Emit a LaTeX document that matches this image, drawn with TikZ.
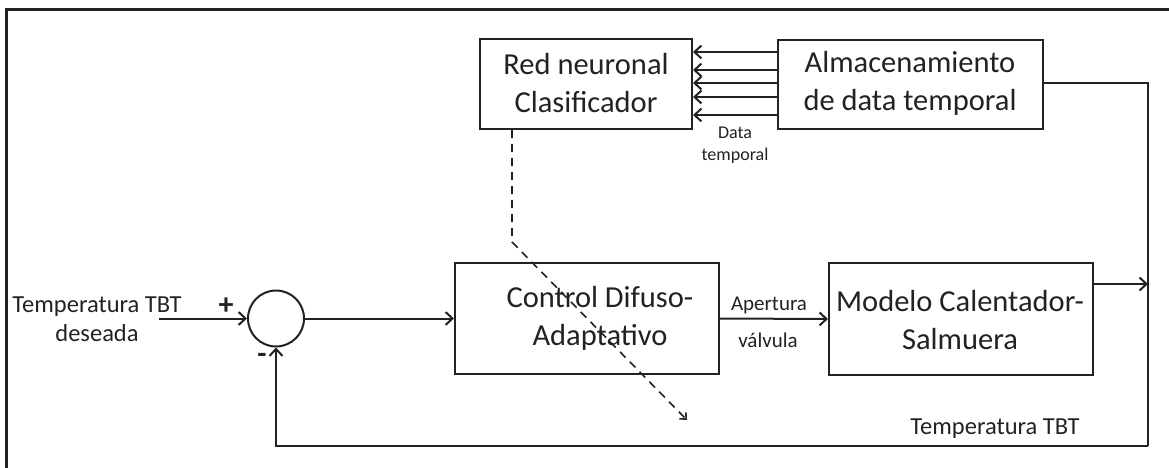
\documentclass[tikz,border=0pt]{standalone}
\usepackage{fontspec}
\setmainfont{Carlito}
\usetikzlibrary{arrows.meta}
\definecolor{ink}{HTML}{222222}
\tikzset{
  block/.style={draw=ink, line width=2pt, fill=white, inner sep=0pt},
  bodytext/.style={text=ink, align=center, font=\fontsize{30.5}{37.5}\selectfont},
  midtext/.style={text=ink, align=center, font=\fontsize{24.5}{28.5}\selectfont},
  smalltext/.style={text=ink, align=center, font=\fontsize{21}{25}\selectfont},
  tinytext/.style={text=ink, align=center, font=\fontsize{18}{22}\selectfont},
  signtext/.style={text=ink, font=\bfseries\fontsize{30}{30}\selectfont},
  wire/.style={draw=ink, line width=2pt},
  arr/.style={wire, -{Straight Barb[length=7pt,width=13pt,line width=2pt]}},
  dasharr/.style={draw=ink, line width=1.6pt, dash pattern=on 8pt off 6pt,
    -{Straight Barb[length=5pt,width=9pt,line width=1.6pt]}},
}
\begin{document}
\begin{tikzpicture}[x=1pt,y=-1pt]
\useasboundingbox (0,0) rectangle (1169,468);

% frame
\draw[draw=ink, line width=3pt] (1175,9.5) -- (6.5,9.5) -- (6.5,475);

% blocks
\node[block, minimum width=212pt, minimum height=90pt] (red) at (586,84) {};
\node[bodytext] (redtext) at (586,83) {Red neuronal\\Clasificador};
\node[block, minimum width=265pt, minimum height=89pt] (alm) at (910.5,84.5) {};
\node[bodytext] (almtext) at (910,83.5) {Almacenamiento\\de data temporal};
\node[block, minimum width=264pt, minimum height=111pt] (ctrl) at (587,318.5) {};
\node[bodytext] (ctrltext) at (600,318.5) {Control Difuso-\\Adaptativo};
\node[block, minimum width=264pt, minimum height=112pt] (mod) at (961,319) {};
\node[bodytext] (modtext) at (960,320) {Modelo Calentador-\\Salmuera};
\node[draw=ink, line width=2pt, circle, minimum size=56pt, inner sep=0pt] (sum) at (276,318.5) {};

% labels
\node[midtext] (inlabel) at (97,319) {Temperatura TBT\\deseada};
\node[signtext] (plus) at (226,306) {+};
\node[signtext] (minus) at (262,358) {-};
\node[smalltext] (aplabel) at (769,305) {Apertura};
\node[smalltext] (vallabel) at (768,340) {válvula};
\node[tinytext] (datalabel) at (735,145) {Data\\temporal};
\node[midtext] (tbtlabel) at (995,429) {Temperatura TBT};

% coordinates of the loop
\coordinate (inp) at (159,318.5);
\coordinate (outtap) at (1148,284);
\coordinate (fbcorner) at (1148,446);
\coordinate (dbend) at (512,242);
\coordinate (dend) at (687,420);

% forward path
\draw[arr] (inp) -- (sum.west);
\draw[arr] (sum.east) -- (ctrl.west);
\draw[arr] (ctrl.east) -- (mod.west);
\draw[arr] (outtap -| mod.east) -- (outtap);

% feedback path
\draw[wire] (alm.east |- 0,83) -- (1148,83) -- (fbcorner);
\draw[arr] (fbcorner) -| (sum.south);

% temporal data bus
\foreach \yy [count=\i] in {52,70,83,97,115} {
  \coordinate (bus\i) at (0,\yy);
  \draw[arr] (alm.west |- bus\i) -- (red.east |- bus\i);
}

% adaptation arrow
\draw[dasharr] (red.south -| dbend) -- (dbend) -- (dend);
\end{tikzpicture}
\end{document}
